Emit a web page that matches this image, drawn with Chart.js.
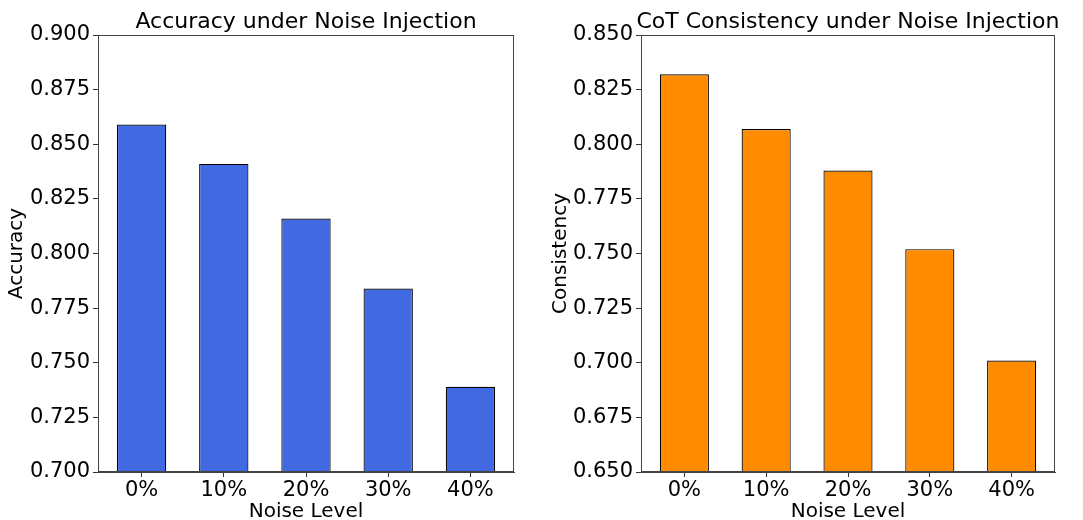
<!DOCTYPE html>
<html lang="en">
<head>
    <meta charset="UTF-8">
    <title>Noise Injection</title>
    <script src="https://cdn.jsdelivr.net/npm/chart.js"></script>
    <style>
        body { margin: 0; background: #fff; }
        .panel { position: absolute; top: 0; }
    </style>
</head>
<body>
    <div class="panel" style="left:0"><canvas id="accChart" width="540" height="520"></canvas></div>
    <div class="panel" style="left:540px"><canvas id="cotChart" width="543" height="520"></canvas></div>

    <script>
        // data
        const noiseLevels = ['0%', '10%', '20%', '30%', '40%'];
        const accuracy = [0.859, 0.841, 0.816, 0.784, 0.739];
        const consistency = [0.832, 0.807, 0.788, 0.752, 0.701];
        const accRange = [0.70, 0.90];
        const cotRange = [0.65, 0.85];
        const yStep = 0.025;

        const FONT = '"DejaVu Sans", sans-serif';

        // closed frame + title centred over the plot area
        const framePlugin = {
            id: 'frame',
            afterDraw(chart, args, opts) {
                const { ctx, chartArea: a } = chart;
                ctx.save();
                ctx.strokeStyle = '#444';
                ctx.lineWidth = 1;
                ctx.strokeRect(a.left + 0.5, a.top + 0.5, a.width - 1, a.height - 1);
                ctx.fillStyle = '#000';
                ctx.font = '22px ' + FONT;
                ctx.textAlign = 'center';
                ctx.textBaseline = 'middle';
                ctx.fillText(opts.text, (a.left + a.right) / 2, 22);
                ctx.restore();
            }
        };

        function makeChart(id, title, yLabel, values, range, color, yWidth, rightPad, yTitlePad) {
            const ctx = document.getElementById(id).getContext('2d');
            return new Chart(ctx, {
                type: 'bar',
                data: {
                    datasets: [{
                        data: values.map((v, i) => ({ x: i, y: v })),
                        backgroundColor: color,
                        borderColor: '#000',
                        borderWidth: 1.2,
                        borderSkipped: false,
                        barPercentage: 0.6,
                        categoryPercentage: 1.0
                    }]
                },
                options: {
                    responsive: false,
                    animation: false,
                    devicePixelRatio: 1,
                    layout: { padding: { top: 35, right: rightPad, left: 0, bottom: 0 } },
                    plugins: {
                        legend: { display: false },
                        tooltip: { enabled: false },
                        frame: { text: title }
                    },
                    scales: {
                        x: {
                            type: 'linear',
                            min: -0.53,
                            max: 4.53,
                            offset: false,
                            afterFit: s => { s.height = 48; },
                            afterBuildTicks: s => { s.ticks = noiseLevels.map((_, i) => ({ value: i })); },
                            grid: { drawOnChartArea: false, tickLength: 5, color: '#333', offset: false },
                            border: { color: '#444' },
                            ticks: {
                                padding: 1,
                                color: '#000',
                                font: { family: FONT, size: 21 },
                                callback: v => noiseLevels[v]
                            },
                            title: {
                                display: true,
                                text: 'Noise Level',
                                color: '#000',
                                font: { family: FONT, size: 20, lineHeight: 0.8 },
                                padding: { top: 0, bottom: 0 }
                            }
                        },
                        y: {
                            min: range[0],
                            max: range[1],
                            afterFit: s => { s.width = yWidth; },
                            grid: { drawOnChartArea: false, tickLength: 5, color: '#333' },
                            border: { color: '#444' },
                            ticks: {
                                stepSize: yStep,
                                padding: 3,
                                color: '#000',
                                font: { family: FONT, size: 21 },
                                callback: v => v.toFixed(3)
                            },
                            title: {
                                display: true,
                                text: yLabel,
                                color: '#000',
                                font: { family: FONT, size: 20 },
                                padding: { top: yTitlePad, bottom: 0 }
                            }
                        }
                    }
                },
                plugins: [framePlugin]
            });
        }

        makeChart('accChart', 'Accuracy under Noise Injection', 'Accuracy', accuracy, accRange, '#4169E1', 98, 26, 5);
        makeChart('cotChart', 'CoT Consistency under Noise Injection', 'Consistency', consistency, cotRange, '#FF8C00', 101, 28, 9);
    </script>
</body>
</html>
